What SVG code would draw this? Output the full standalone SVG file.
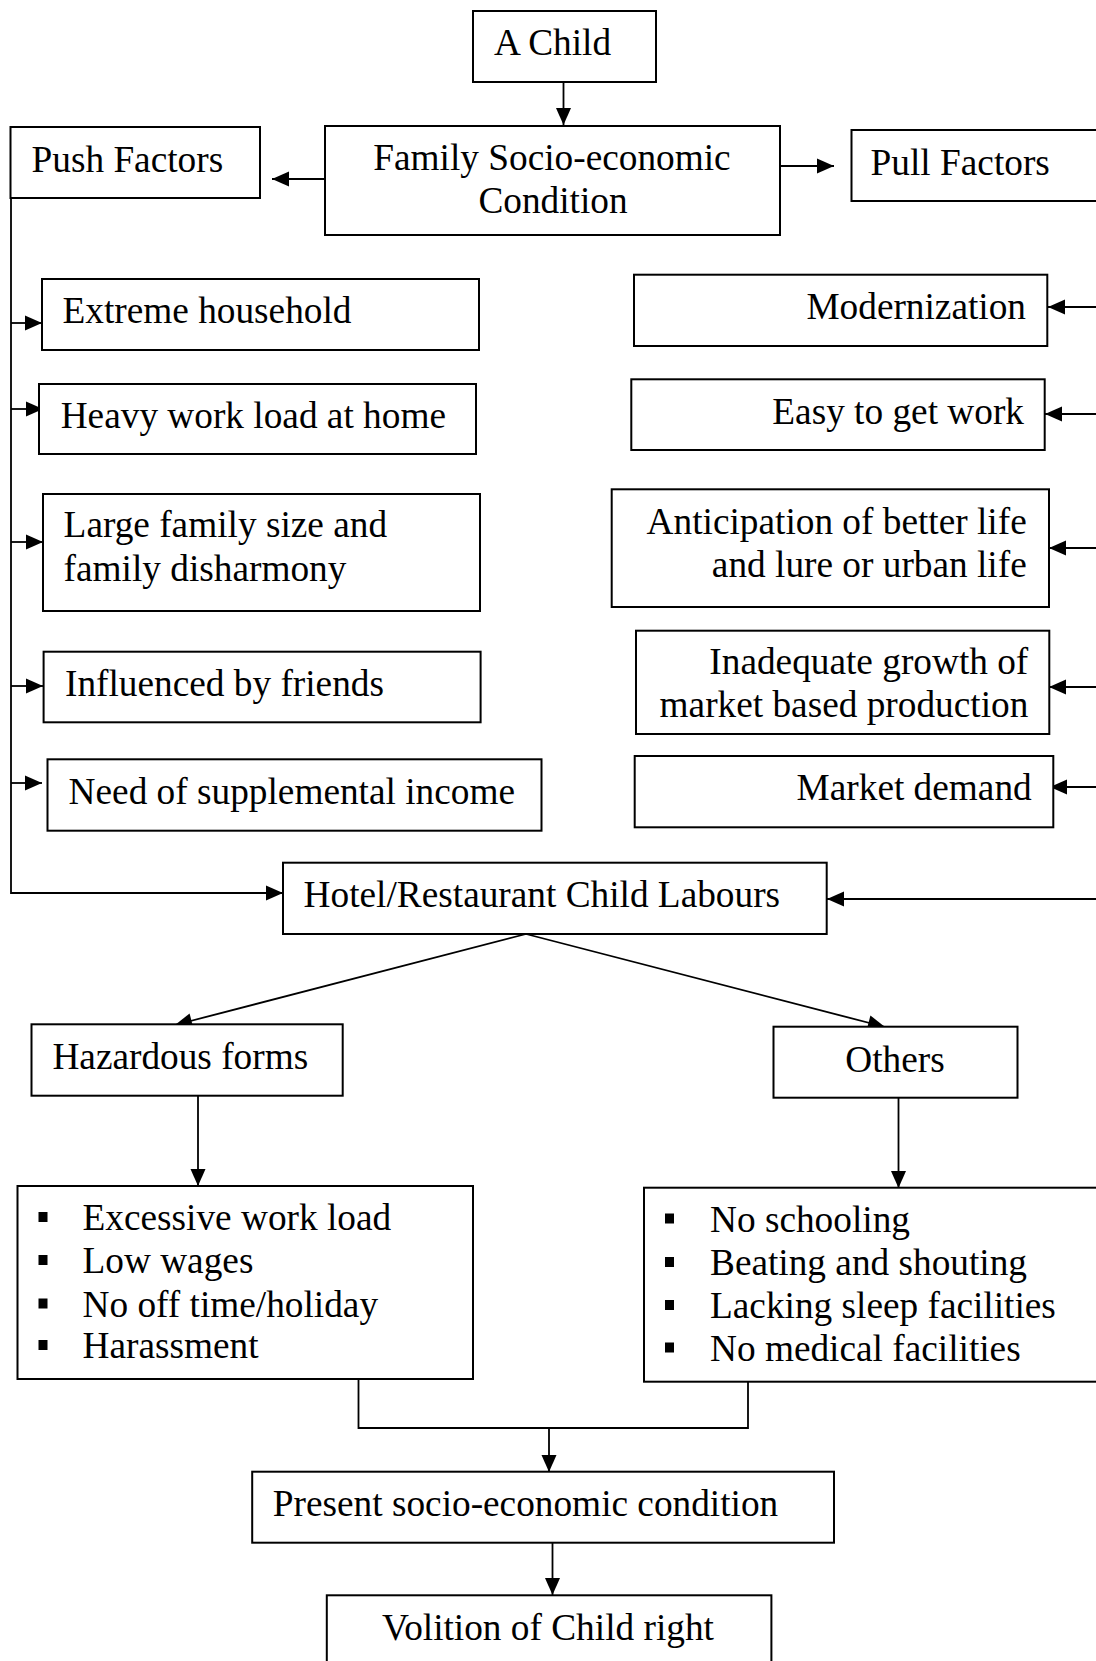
<svg xmlns="http://www.w3.org/2000/svg" width="1096" height="1661" viewBox="0 0 1096 1661">
<style>
.box{fill:#fff;stroke:#000;stroke-width:2}
.t{font-family:"Liberation Serif","Times New Roman",serif;font-size:37.3px;fill:#000}
.e{text-anchor:end}
.m{text-anchor:middle}
.ln{fill:none;stroke:#000;stroke-width:1.8}
.bl{fill:#000}
</style>
<defs>
<marker id="ah" markerUnits="userSpaceOnUse" markerWidth="18" markerHeight="16" refX="17" refY="7.5" orient="auto" overflow="visible">
<path d="M0,0 L17,7.5 L0,15 z" fill="#000"/>
</marker>
</defs>
<rect width="1096" height="1661" fill="#fff"/>
<g id="connectors">
<line class="ln" x1="563.5" y1="82" x2="563.5" y2="125" marker-end="url(#ah)"/>
<line class="ln" x1="325" y1="179" x2="272" y2="179" marker-end="url(#ah)"/>
<line class="ln" x1="780" y1="166" x2="834" y2="166" marker-end="url(#ah)"/>
<polyline class="ln" points="11,198 11,893 283,893" marker-end="url(#ah)"/>
<line class="ln" x1="11" y1="323" x2="42" y2="323" marker-end="url(#ah)"/>
<line class="ln" x1="11" y1="409" x2="43" y2="409" marker-end="url(#ah)"/>
<line class="ln" x1="11" y1="542" x2="43" y2="542" marker-end="url(#ah)"/>
<line class="ln" x1="11" y1="686" x2="43" y2="686" marker-end="url(#ah)"/>
<line class="ln" x1="11" y1="783" x2="42" y2="783" marker-end="url(#ah)"/>
<line class="ln" x1="1100" y1="307" x2="1048" y2="307" marker-end="url(#ah)"/>
<line class="ln" x1="1100" y1="414" x2="1045" y2="414" marker-end="url(#ah)"/>
<line class="ln" x1="1100" y1="548" x2="1049" y2="548" marker-end="url(#ah)"/>
<line class="ln" x1="1100" y1="687" x2="1049" y2="687" marker-end="url(#ah)"/>
<line class="ln" x1="1100" y1="787" x2="1050" y2="787" marker-end="url(#ah)"/>
<line class="ln" x1="1100" y1="899" x2="827" y2="899" marker-end="url(#ah)"/>
<line class="ln" x1="526" y1="934" x2="175" y2="1025" marker-end="url(#ah)"/>
<line class="ln" x1="526" y1="934" x2="885" y2="1027" marker-end="url(#ah)"/>
<line class="ln" x1="198" y1="1096" x2="198" y2="1186" marker-end="url(#ah)"/>
<line class="ln" x1="898.5" y1="1098" x2="898.5" y2="1188" marker-end="url(#ah)"/>
<polyline class="ln" points="358.5,1379 358.5,1428 748,1428 748,1381"/>
<line class="ln" x1="549" y1="1428" x2="549" y2="1472" marker-end="url(#ah)"/>
<line class="ln" x1="552.5" y1="1543" x2="552.5" y2="1595" marker-end="url(#ah)"/>
</g>
<g id="child"><rect class="box" x="473" y="11" width="183" height="71"/><text class="t" x="494" y="55">A Child</text></g>
<g id="family"><rect class="box" x="325" y="126" width="455" height="109"/><text class="t m" x="552" y="170">Family Socio-economic</text><text class="t m" x="553" y="213">Condition</text></g>
<g id="push"><rect class="box" x="10.5" y="127" width="249.5" height="71"/><text class="t" x="31.5" y="172">Push Factors</text></g>
<g id="pull"><rect class="box" x="851.5" y="130" width="260" height="71"/><text class="t" x="870.6" y="175">Pull Factors</text></g>
<g id="extreme"><rect class="box" x="42" y="279" width="437" height="71"/><text class="t" x="62.5" y="323">Extreme household</text></g>
<g id="heavy"><rect class="box" x="39" y="384" width="437" height="70"/><text class="t" x="60.7" y="428">Heavy work load at home</text></g>
<g id="large"><rect class="box" x="43" y="494" width="437" height="117"/><text class="t" x="63.6" y="537">Large family size and</text><text class="t" x="63.6" y="581">family disharmony</text></g>
<g id="influenced"><rect class="box" x="43.6" y="651.7" width="437" height="70.6"/><text class="t" x="65" y="696">Influenced by friends</text></g>
<g id="need"><rect class="box" x="47.5" y="759.3" width="494" height="71.4"/><text class="t" x="68.6" y="804">Need of supplemental income</text></g>
<g id="modernization"><rect class="box" x="634" y="274.7" width="413.3" height="71.3"/><text class="t e" x="1026" y="319">Modernization</text></g>
<g id="easy"><rect class="box" x="631.3" y="379.3" width="413.4" height="70.7"/><text class="t e" x="1024" y="424">Easy to get work</text></g>
<g id="anticipation"><rect class="box" x="611.7" y="489.3" width="437.3" height="117.7"/><text class="t e" x="1026.7" y="534.3">Anticipation of better life</text><text class="t e" x="1026.7" y="577.3">and lure or urban life</text></g>
<g id="inadequate"><rect class="box" x="636" y="630.7" width="413.3" height="103.3"/><text class="t e" x="1028.3" y="674.3">Inadequate growth of</text><text class="t e" x="1028.3" y="717.3">market based production</text></g>
<g id="market"><rect class="box" x="634.7" y="756" width="418.6" height="71.3"/><text class="t e" x="1031.7" y="800">Market demand</text></g>
<g id="hotel"><rect class="box" x="283" y="862.7" width="543.7" height="71.3"/><text class="t" x="303.6" y="907.3">Hotel/Restaurant Child Labours</text></g>
<g id="hazardous"><rect class="box" x="31.5" y="1024.3" width="311.2" height="71.4"/><text class="t" x="52.4" y="1069.3">Hazardous forms</text></g>
<g id="others"><rect class="box" x="773.5" y="1026.7" width="244" height="71"/><text class="t m" x="895" y="1071.7">Others</text></g>
<g id="hazlist"><rect class="box" x="17.5" y="1186" width="455.5" height="193"/>
<rect class="bl" x="38.5" y="1212" width="9" height="10"/><text class="t" x="82.5" y="1230">Excessive work load</text>
<rect class="bl" x="38.5" y="1255" width="9" height="10"/><text class="t" x="82.5" y="1273.3">Low wages</text>
<rect class="bl" x="38.5" y="1298.5" width="9" height="10"/><text class="t" x="82.5" y="1316.7">No off time/holiday</text>
<rect class="bl" x="38.5" y="1340" width="9" height="10"/><text class="t" x="82.5" y="1358.3">Harassment</text>
</g>
<g id="otherslist"><rect class="box" x="644" y="1187.7" width="460" height="194"/>
<rect class="bl" x="665" y="1213.5" width="9" height="10"/><text class="t" x="710" y="1231.7">No schooling</text>
<rect class="bl" x="665" y="1257" width="9" height="10"/><text class="t" x="710" y="1275">Beating and shouting</text>
<rect class="bl" x="665" y="1300" width="9" height="10"/><text class="t" x="710" y="1318.3">Lacking sleep facilities</text>
<rect class="bl" x="665" y="1342.5" width="9" height="10"/><text class="t" x="710" y="1360.7">No medical facilities</text>
</g>
<g id="present"><rect class="box" x="252.2" y="1471.7" width="581.8" height="71"/><text class="t" x="272.8" y="1516">Present socio-economic condition</text></g>
<g id="volition"><rect class="box" x="326.8" y="1595.3" width="444.6" height="75"/><text class="t" x="382" y="1640">Volition of Child right</text></g>
</svg>
